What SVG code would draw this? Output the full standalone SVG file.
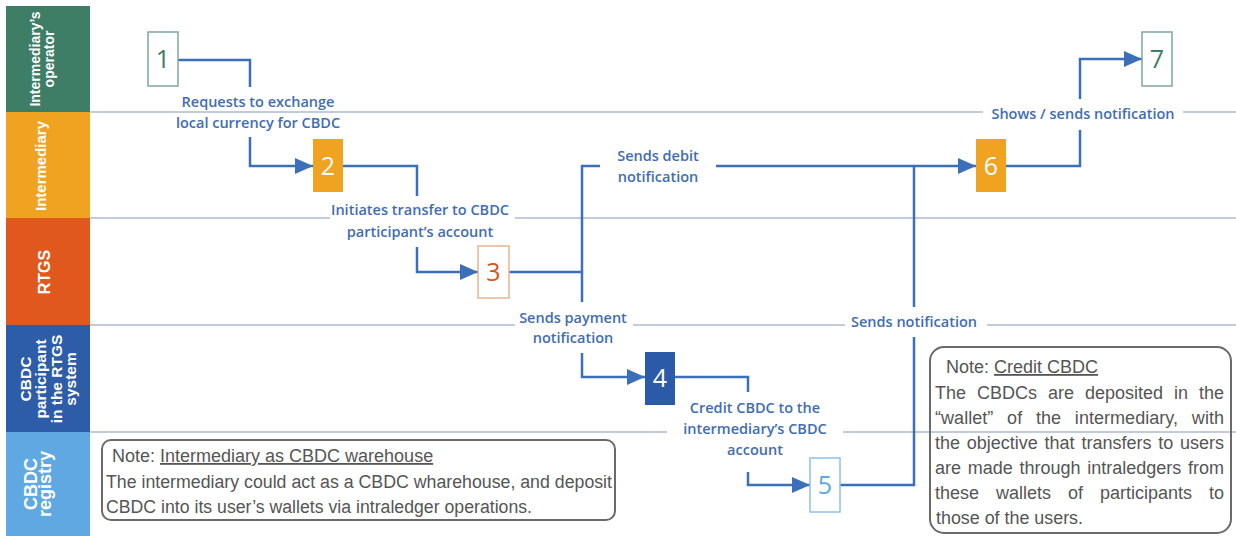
<svg xmlns="http://www.w3.org/2000/svg" width="1236" height="536" viewBox="0 0 1236 536">
  <style>
    .lane-title { font-family: "Liberation Sans", Arial, sans-serif; font-weight: bold; fill: #ffffff; text-anchor: middle; }
    .sep { stroke: #aebbd0; stroke-width: 1.5; fill: none; }
    .flow { stroke: #3c6fba; stroke-width: 2.5; fill: none; }
    .lbl { font-family: "Open Sans", "Noto Sans", sans-serif; font-weight: 600; font-size: 14.5px; fill: #3f6db3; text-anchor: middle; }
    .digit { font-family: "Open Sans", "Noto Sans", sans-serif; font-size: 25px; text-anchor: middle; }
    .note-box { fill: none; stroke: #6a6a6a; stroke-width: 2; }
    .note { font-family: "Liberation Sans", Arial, sans-serif; font-size: 18px; fill: #555555; }
  </style>
  <defs>
    <marker id="arrow" viewBox="0 0 18 16" refX="18" refY="8" markerWidth="18" markerHeight="16" markerUnits="userSpaceOnUse" orient="auto">
      <path d="M0,0 L18,8 L0,16 Z" fill="#3c6fba"/>
    </marker>
  </defs>

  <rect width="1236" height="536" fill="#ffffff"/>

  <!-- swimlane headers -->
  <g id="lanes">
    <rect x="6" y="6" width="84" height="106" fill="#3e7d66"/>
    <rect x="6" y="112" width="84" height="106" fill="#f0a221"/>
    <rect x="6" y="218" width="84" height="107" fill="#e0581e"/>
    <rect x="6" y="325" width="84" height="107" fill="#2d5ca8"/>
    <rect x="6" y="432" width="84" height="104" fill="#5fa8e2"/>
    <text class="lane-title" font-size="14" transform="translate(40,59) rotate(-90)">Intermediary’s</text>
    <text class="lane-title" font-size="14" transform="translate(54,59) rotate(-90)">operator</text>
    <text class="lane-title" font-size="15" transform="translate(46,166) rotate(-90)">Intermediary</text>
    <text class="lane-title" font-size="16" transform="translate(50,272) rotate(-90)">RTGS</text>
    <text class="lane-title" font-size="15.5" transform="translate(31,379) rotate(-90)">CBDC</text>
    <text class="lane-title" font-size="15.5" transform="translate(46,379) rotate(-90)">participant</text>
    <text class="lane-title" font-size="15.5" transform="translate(62,379) rotate(-90)">in the RTGS</text>
    <text class="lane-title" font-size="15.5" transform="translate(76,379) rotate(-90)">system</text>
    <text class="lane-title" font-size="18" transform="translate(37,484) rotate(-90)">CBDC</text>
    <text class="lane-title" font-size="18" transform="translate(51,484) rotate(-90)">registry</text>
  </g>

  <!-- lane separators, interrupted where labels sit -->
  <g id="separators">
    <path class="sep" d="M90,112 H983 M1183,112 H1236"/>
    <path class="sep" d="M90,218 H330 M515,218 H1236"/>
    <path class="sep" d="M90,325 H515 M633,325 H845 M987,325 H1236"/>
    <path class="sep" d="M90,432 H667 M843,432 H1236"/>
  </g>

  <!-- connectors -->
  <g id="connectors">
    <path class="flow" d="M178,60 H250 V87"/>
    <path class="flow" d="M250,137 V166 H313" marker-end="url(#arrow)"/>
    <path class="flow" d="M343,166 H417 V196"/>
    <path class="flow" d="M417,247 V272 H478" marker-end="url(#arrow)"/>
    <path class="flow" d="M509,272 H582"/>
    <path class="flow" d="M582,302 V166 H600"/>
    <path class="flow" d="M716,166 H976" marker-end="url(#arrow)"/>
    <path class="flow" d="M582,353 V377 H645" marker-end="url(#arrow)"/>
    <path class="flow" d="M675,377 H748 V392"/>
    <path class="flow" d="M748,472 V485 H810" marker-end="url(#arrow)"/>
    <path class="flow" d="M840,485 H914 V337"/>
    <path class="flow" d="M914,307 V166"/>
    <path class="flow" d="M1006,166 H1080 V130"/>
    <path class="flow" d="M1080,99 V59 H1142" marker-end="url(#arrow)"/>
  </g>

  <!-- connector labels -->
  <g id="labels">
    <text class="lbl" x="258" y="107">Requests to exchange</text>
    <text class="lbl" x="258" y="128">local currency for CBDC</text>
    <text class="lbl" x="420" y="215">Initiates transfer to CBDC</text>
    <text class="lbl" x="420" y="237">participant’s account</text>
    <text class="lbl" x="658" y="161">Sends debit</text>
    <text class="lbl" x="658" y="182">notification</text>
    <text class="lbl" x="573" y="323">Sends payment</text>
    <text class="lbl" x="573" y="343">notification</text>
    <text class="lbl" x="755" y="413">Credit CBDC to the</text>
    <text class="lbl" x="755" y="434">intermediary’s CBDC</text>
    <text class="lbl" x="755" y="455">account</text>
    <text class="lbl" x="914" y="327">Sends notification</text>
    <text class="lbl" x="1083" y="119">Shows / sends notification</text>
  </g>

  <!-- process steps -->
  <g id="step1">
    <rect x="148" y="32" width="30" height="54" fill="#ffffff" stroke="#7fa898" stroke-width="1.5"/>
    <text class="digit" x="163" y="68" fill="#3e7d66">1</text>
  </g>
  <g id="step2">
    <rect x="313" y="139" width="30" height="53" fill="#f0a221"/>
    <text class="digit" x="328" y="175" fill="#ffffff">2</text>
  </g>
  <g id="step3">
    <rect x="478" y="246" width="31" height="52" fill="#ffffff" stroke="#e8b48e" stroke-width="1.5"/>
    <text class="digit" x="493.5" y="281" fill="#d9541a">3</text>
  </g>
  <g id="step4">
    <rect x="645" y="352" width="30" height="53" fill="#2b5aa8"/>
    <text class="digit" x="660" y="387" fill="#ffffff">4</text>
  </g>
  <g id="step5">
    <rect x="810" y="458" width="30" height="54" fill="#ffffff" stroke="#8cc0e8" stroke-width="1.5"/>
    <text class="digit" x="825" y="494" fill="#5fa8e2">5</text>
  </g>
  <g id="step6">
    <rect x="976" y="139" width="30" height="53" fill="#f0a221"/>
    <text class="digit" x="991" y="175" fill="#ffffff">6</text>
  </g>
  <g id="step7">
    <rect x="1142" y="32" width="30" height="54" fill="#ffffff" stroke="#7fa898" stroke-width="1.5"/>
    <text class="digit" x="1157" y="68" fill="#3e7d66">7</text>
  </g>

  <!-- notes -->
  <g id="note-warehouse">
    <rect class="note-box" x="102" y="440" width="513" height="80" rx="9"/>
    <text class="note" x="112" y="462">Note: <tspan text-decoration="underline">Intermediary as CBDC warehouse</tspan></text>
    <text class="note" x="106" y="488" textLength="506" lengthAdjust="spacingAndGlyphs">The intermediary could act as a CBDC wharehouse, and deposit</text>
    <text class="note" x="106" y="513" textLength="426" lengthAdjust="spacingAndGlyphs">CBDC into its user’s wallets via intraledger operations.</text>
  </g>
  <g id="note-credit">
    <rect class="note-box" x="930" y="347" width="301" height="186" rx="14"/>
    <text class="note" x="946" y="373">Note: <tspan text-decoration="underline">Credit CBDC</tspan></text>
    <!-- justified body: widened word gaps, length pinned to the column -->
    <text class="note" x="935" y="399" word-spacing="6" textLength="289" lengthAdjust="spacing">The CBDCs are deposited in the</text>
    <text class="note" x="935" y="424" word-spacing="8.7" textLength="289" lengthAdjust="spacing">“wallet” of the intermediary, with</text>
    <text class="note" x="935" y="449" word-spacing="1.8" textLength="289" lengthAdjust="spacing">the objective that transfers to users</text>
    <text class="note" x="935" y="474" word-spacing="1.7" textLength="289" lengthAdjust="spacing">are made through intraledgers from</text>
    <text class="note" x="935" y="499" word-spacing="12" textLength="289" lengthAdjust="spacing">these wallets of participants to</text>
    <text class="note" x="936" y="524" textLength="147" lengthAdjust="spacingAndGlyphs">those of the users.</text>
  </g>
</svg>
